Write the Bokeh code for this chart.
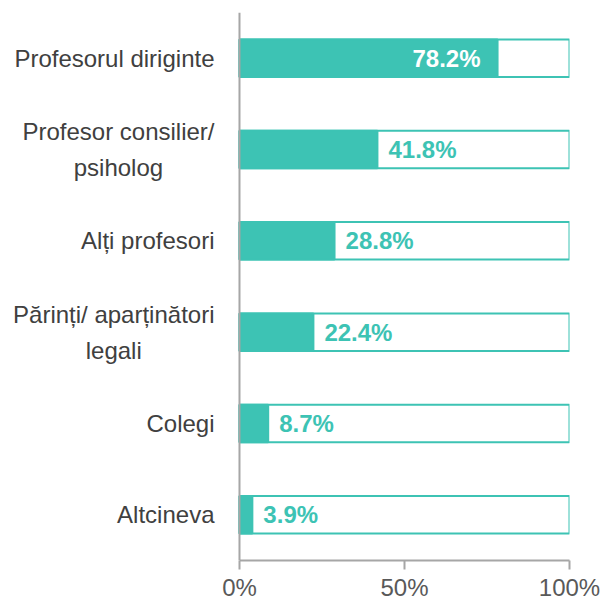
from bokeh.plotting import figure
from bokeh.models import ColumnDataSource, Range1d, FactorRange, FixedTicker, Text, Span
from bokeh.core.properties import value
from bokeh.embed import file_html
from bokeh.resources import INLINE

categories = [
    "Profesorul diriginte",
    "Profesor consilier/\npsiholog",
    "Alți profesori",
    "Părinți/ aparținători\nlegali",
    "Colegi",
    "Altcineva",
]
percentages = [78.2, 41.8, 28.8, 22.4, 8.7, 3.9]
value_labels = ["78.2%", "41.8%", "28.8%", "22.4%", "8.7%", "3.9%"]
full_scale = [100, 100, 100, 100, 100, 100]
x_ticks = [0, 50, 100]
x_tick_labels = ["0%", "50%", "100%"]

TEAL = "#3DC3B4"
AXIS = "#A6A6A6"
FONT = "Liberation Sans"

# frame spans the label area too; value 0 sits 239px from the left edge
p = figure(
    width=600, height=607,
    x_range=Range1d(-72.42, 100),
    y_range=FactorRange(factors=list(reversed(categories))),
    output_backend="svg", toolbar_location=None,
    min_border_left=0, min_border_right=31,
    min_border_top=12, min_border_bottom=47,
)
p.outline_line_color = None
p.xgrid.visible = False
p.ygrid.visible = False
p.yaxis.visible = False

src = ColumnDataSource(dict(cat=categories, pct=percentages, full=full_scale, lab=value_labels))

p.hbar(y="cat", right="full", left=0, height=0.41, source=src,
       fill_color="white", line_color=TEAL, line_width=2)
p.hbar(y="cat", right="pct", left=0, height=0.41, source=src,
       fill_color=TEAL, line_color=TEAL, line_width=2)

# y axis line
p.add_layout(Span(location=0, dimension="height", line_color=AXIS, line_width=2))

inside = [v > 50 for v in percentages]
src_in = ColumnDataSource(dict(
    cat=[c for c, f in zip(categories, inside) if f],
    pct=[v for v, f in zip(percentages, inside) if f],
    lab=[l for l, f in zip(value_labels, inside) if f]))
src_out = ColumnDataSource(dict(
    cat=[c for c, f in zip(categories, inside) if not f],
    pct=[v for v, f in zip(percentages, inside) if not f],
    lab=[l for l, f in zip(value_labels, inside) if not f]))

p.text(x="pct", y="cat", text="lab", source=src_in, x_offset=-17,
       text_align="right", text_baseline="middle", text_color="white",
       text_font=value(FONT), text_font_style="bold", text_font_size="24px")
p.text(x="pct", y="cat", text="lab", source=src_out, x_offset=11,
       text_align="left", text_baseline="middle", text_color=TEAL,
       text_font=value(FONT), text_font_style="bold", text_font_size="24px")

# category labels
cat_src = ColumnDataSource(dict(cat=categories, x0=[0] * len(categories)))
cat_kwargs = dict(text_align="center", text_baseline="middle", text_color="#404040",
                  text_font=value(FONT), text_font_size="24px", text_line_height=1.33)
if "anchor" in Text.properties():
    cat_kwargs["anchor"] = "center_right"
else:
    cat_kwargs["text_align"] = "right"
p.text(x="x0", y="cat", text="cat", source=cat_src, x_offset=-25, **cat_kwargs)

# x axis
xa = p.xaxis[0]
xa.bounds = (0, 100)
xa.ticker = FixedTicker(ticks=x_ticks)
xa.major_label_overrides = {t: l for t, l in zip(x_ticks, x_tick_labels)}
xa.axis_line_color = AXIS
xa.axis_line_width = 2
xa.major_tick_line_color = AXIS
xa.major_tick_line_width = 2
xa.major_tick_out = 9
xa.major_tick_in = 0
xa.minor_tick_line_color = None
xa.major_label_text_font = FONT
xa.major_label_text_font_size = "24px"
xa.major_label_text_color = "#595959"
xa.major_label_standoff = 4

open("out.html", "w").write(file_html(p, INLINE))
